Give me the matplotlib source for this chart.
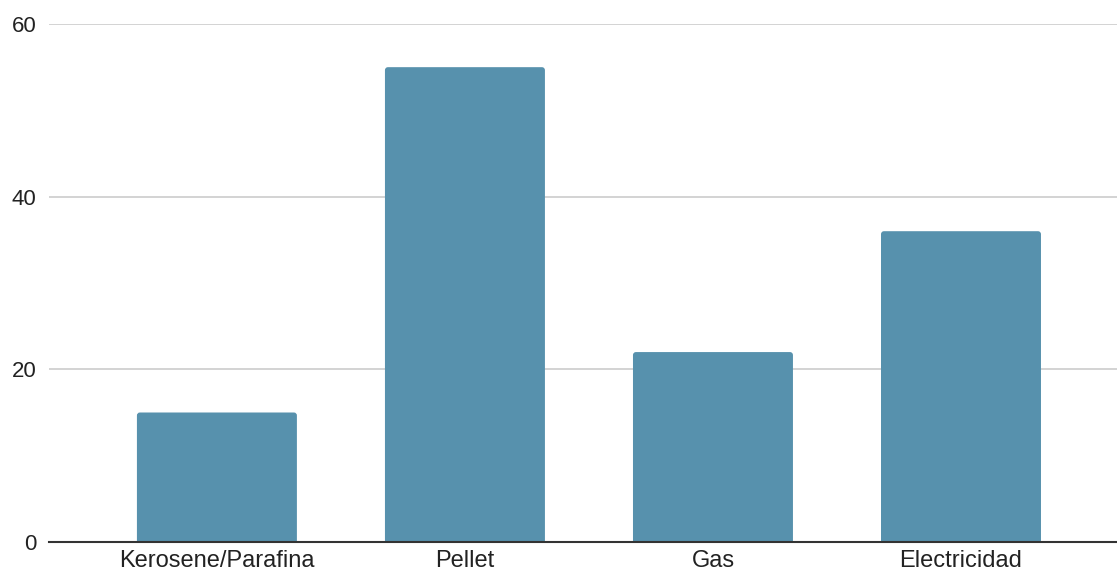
import matplotlib.pyplot as plt
from matplotlib.path import Path
from matplotlib.patches import PathPatch

categories = ["Kerosene/Parafina", "Pellet", "Gas", "Electricidad"]
values = [15, 55, 22, 36]
y_ticks = [0, 20, 40, 60]

BAR_COLOR = "#5791ad"
TEXT_COLOR = "#222222"

plt.rcParams["font.family"] = ["Liberation Sans", "DejaVu Sans"]

fig = plt.figure(figsize=(11.17, 5.75), dpi=100)
ax = fig.add_axes([49 / 1117, 33 / 575, 1068 / 1117, 518 / 575])

ax.set_xlim(-0.677, 3.629)
ax.set_ylim(0, 60)

bars = ax.bar(range(len(values)), values, width=0.645, color=BAR_COLOR, zorder=2)

# swap plain rectangles for ones with slightly rounded top corners
fig.canvas.draw()
px_x = 1 / (ax.transData.transform((1, 0))[0] - ax.transData.transform((0, 0))[0])
px_y = 1 / (ax.transData.transform((0, 1))[1] - ax.transData.transform((0, 0))[1])
r = 3
for b in bars:
    x0, y0 = b.get_x(), b.get_y()
    x1, y1 = x0 + b.get_width(), y0 + b.get_height()
    rx, ry = r * px_x, r * px_y
    verts = [
        (x0, y0), (x0, y1 - ry), (x0, y1), (x0 + rx, y1),
        (x1 - rx, y1), (x1, y1), (x1, y1 - ry), (x1, y0), (x0, y0),
    ]
    codes = [
        Path.MOVETO, Path.LINETO, Path.CURVE3, Path.CURVE3,
        Path.LINETO, Path.CURVE3, Path.CURVE3, Path.LINETO, Path.CLOSEPOLY,
    ]
    b.set_visible(False)
    ax.add_patch(PathPatch(Path(verts, codes), facecolor=BAR_COLOR,
                           edgecolor="none", zorder=2))

ax.set_yticks(y_ticks)
ax.set_xticks(range(len(categories)))
ax.set_xticklabels(categories)
ax.grid(axis="y", color="#cccccc", linewidth=1.2, zorder=0)
ax.axhline(0, color="#333333", linewidth=1.5, zorder=3, clip_on=False)

for s in ax.spines.values():
    s.set_visible(False)
ax.tick_params(axis="both", length=0, colors=TEXT_COLOR)
ax.tick_params(axis="y", pad=9, labelsize=16)
ax.tick_params(axis="x", pad=6, labelsize=17)

fig.savefig("out.png", dpi=100)
